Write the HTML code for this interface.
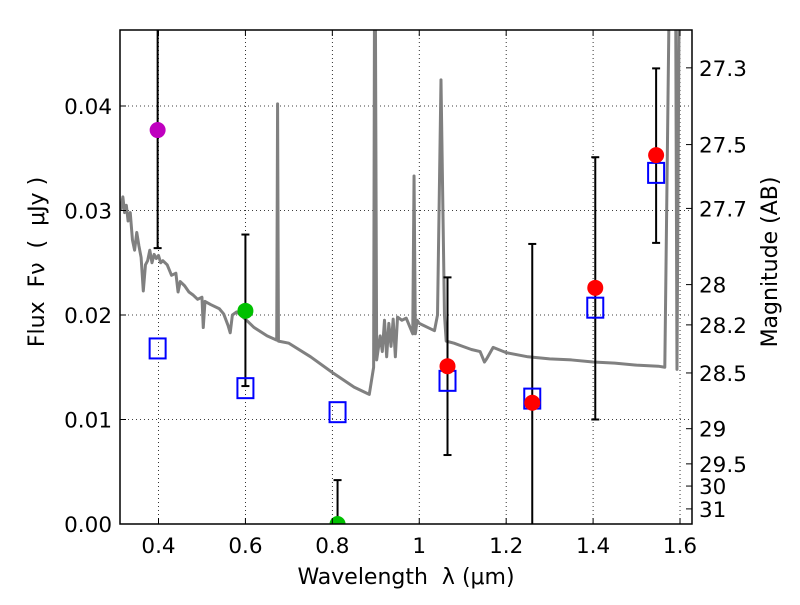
<!DOCTYPE html>
<html><head><meta charset="utf-8"><style>
body{margin:0;background:#fff;}
svg text{font-family:"DejaVu Sans","Liberation Sans",sans-serif;white-space:pre;}
</style></head><body>
<svg id="chart" width="800" height="600">
<g id="grid"></g>
<g id="plot"></g>
<g id="axes"></g>
</svg>
<script>
const xTicks=[0.4,0.6,0.8,1.0,1.2,1.4,1.6];
const xTickLabels=["0.4","0.6","0.8","1","1.2","1.4","1.6"];
const yTicks=[0,0.01,0.02,0.03,0.04];
const yTickLabels=["0.00","0.01","0.02","0.03","0.04"];
const magTicks=[27.3,27.5,27.7,28,28.2,28.5,29,29.5,30,31];
const specWave=[0.313,0.318,0.322,0.326,0.33,0.335,0.34,0.345,0.35,0.355,0.36,0.365,0.37,0.375,0.38,0.385,0.39,0.395,0.40,0.405,0.41,0.42,0.43,0.44,0.445,0.45,0.46,0.47,0.48,0.49,0.50,0.503,0.507,0.52,0.54,0.55,0.56,0.565,0.57,0.58,0.60,0.62,0.65,0.672,0.674,0.676,0.70,0.75,0.80,0.85,0.88,0.885,0.895,0.897,0.899,0.902,0.91,0.915,0.92,0.925,0.93,0.935,0.94,0.945,0.95,0.96,0.97,0.985,0.988,0.991,0.995,1.0,1.02,1.035,1.042,1.05,1.058,1.062,1.08,1.1,1.12,1.14,1.15,1.155,1.17,1.2,1.25,1.3,1.35,1.4,1.45,1.5,1.55,1.565,1.575,1.59,1.593,1.598,1.602];
const specFlux=[0.0300,0.0313,0.0298,0.0305,0.0290,0.0298,0.0272,0.0262,0.0279,0.0266,0.0255,0.0223,0.0248,0.0252,0.0262,0.0250,0.0258,0.0254,0.0257,0.0250,0.0252,0.0248,0.0238,0.0240,0.0222,0.0232,0.0228,0.0222,0.0219,0.0215,0.0217,0.0188,0.0213,0.0210,0.0206,0.0201,0.0190,0.0183,0.0200,0.0203,0.0196,0.0188,0.0180,0.0176,0.0402,0.0175,0.0173,0.0160,0.0145,0.0131,0.0125,0.0124,0.0150,0.0500,0.0500,0.0157,0.0180,0.0165,0.0195,0.0160,0.0192,0.0170,0.0196,0.0160,0.0198,0.0195,0.0197,0.0182,0.0333,0.0182,0.0195,0.0192,0.0188,0.0185,0.0200,0.0425,0.0200,0.0175,0.0173,0.0170,0.0167,0.0165,0.0155,0.0158,0.0169,0.0164,0.0160,0.0158,0.0157,0.0155,0.0154,0.0152,0.0151,0.0150,0.0500,0.0500,0.0148,0.0500,0.0500];
const obsWave=[0.398,0.600,0.812,1.065,1.26,1.405,1.545];
const obsFlux=[0.0377,0.0204,0.0000,0.0151,0.0116,0.0226,0.0353];
const obsLo=[0.0264,0.0132,0.0000,0.0066,-0.005,0.0100,0.0269];
const obsHi=[0.0600,0.0277,0.0042,0.0236,0.0268,0.0351,0.0436];
const obsColor=["#bf00bf","#00c000","#00c000","#ff0000","#ff0000","#ff0000","#ff0000"];
const modelFlux=[0.0168,0.0130,0.0107,0.0137,0.0120,0.0207,0.0336];

const L=120,R=692,T=30,B=524;
const X=v=>158.5+(v-0.4)*434.6;
const Y=f=>524-f*10450;
const NS="http://www.w3.org/2000/svg";
function mk(p,tag,at){const e=document.createElementNS(NS,tag);for(const k in at)e.setAttribute(k,at[k]);p.appendChild(e);return e;}
const svg=document.getElementById('chart'),grid=document.getElementById('grid'),plot=document.getElementById('plot'),axes=document.getElementById('axes');
const defs=mk(svg,'defs',{});const cp=mk(defs,'clipPath',{id:'c'});mk(cp,'rect',{x:L,y:T,width:R-L,height:B-T});
plot.setAttribute('clip-path','url(#c)');
xTicks.forEach((v,i)=>{
 const g=mk(grid,'line',{x1:X(v),x2:X(v),y1:T,y2:B,stroke:'#000','stroke-dasharray':'1,3','stroke-width':0.8});
 
 const t=mk(axes,'text',{x:X(v),y:553,'font-size':21.5,'text-anchor':'middle'});t.textContent=xTickLabels[i];
 
 mk(axes,'line',{x1:X(v),x2:X(v),y1:B,y2:B-6,stroke:'#000'});mk(axes,'line',{x1:X(v),x2:X(v),y1:T,y2:T+6,stroke:'#000'});
});
yTicks.forEach((v,i)=>{
 if(v>0){const g=mk(grid,'line',{x1:L,x2:R,y1:Y(v),y2:Y(v),stroke:'#000','stroke-dasharray':'1,3','stroke-width':0.8});
 }
 const t=mk(axes,'text',{x:112,y:Y(v)+8,'font-size':21.5,'text-anchor':'end'});t.textContent=yTickLabels[i];
 
 mk(axes,'line',{x1:L,x2:L+6,y1:Y(v),y2:Y(v),stroke:'#000'});
});
magTicks.forEach(m=>{
 const y=Y(Math.pow(10,(23.9-m)/2.5));
 mk(axes,'line',{x1:R,x2:R-6,y1:y,y2:y,stroke:'#000'});
 const t=mk(axes,'text',{x:699,y:y+8,'font-size':21.5});t.textContent=String(m);
 
});
const sp=mk(plot,'polyline',{points:specWave.map((w,i)=>X(w)+','+Y(specFlux[i])).join(' '),fill:'none',stroke:'#808080','stroke-width':3,'stroke-linejoin':'round'});

obsWave.forEach((w,i)=>{
 const x=X(w);
 const e=mk(plot,'line',{x1:x,x2:x,y1:Y(obsHi[i]),y2:Y(obsLo[i]),stroke:'#000','stroke-width':2});
 
 mk(plot,'line',{x1:x-4,x2:x+4,y1:Y(obsHi[i]),y2:Y(obsHi[i]),stroke:'#000','stroke-width':2});
 mk(plot,'line',{x1:x-4,x2:x+4,y1:Y(obsLo[i]),y2:Y(obsLo[i]),stroke:'#000','stroke-width':2});
 const s=mk(plot,'rect',{x:x-8,y:Y(modelFlux[i])-10,width:16,height:20,fill:'none',stroke:'#0000ff','stroke-width':2});
 
 const c=mk(plot,'circle',{cx:x,cy:Y(obsFlux[i]),r:8,fill:obsColor[i]});
 
});
mk(axes,'rect',{x:L,y:T,width:R-L,height:B-T,fill:'none',stroke:'#000','stroke-width':1.5});
let t=mk(axes,'text',{x:406,y:584,'font-size':22,'text-anchor':'middle'});t.textContent='Wavelength  λ (μm)';

t=mk(axes,'text',{x:0,y:0,'font-size':22,'text-anchor':'middle',transform:'translate(44,262) rotate(-90)'});t.textContent='Flux  Fν  (  μJy )';

t=mk(axes,'text',{x:0,y:0,'font-size':22,'text-anchor':'middle',transform:'translate(777,262) rotate(-90)'});t.textContent='Magnitude (AB)';

</script>
</body></html>
